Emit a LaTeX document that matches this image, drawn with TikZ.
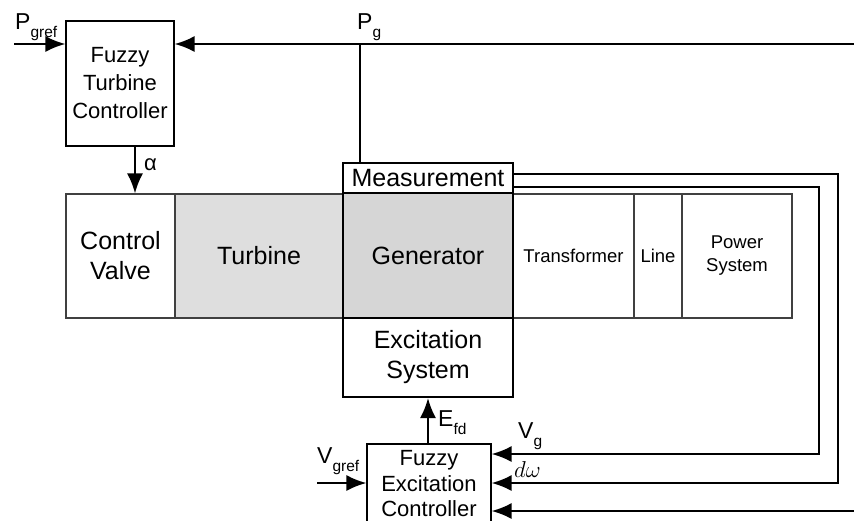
\RequirePackage{fix-cm}
\documentclass[tikz,border=0pt]{standalone}
\usepackage{fontspec}
\setmainfont{Liberation Sans}
\usetikzlibrary{arrows.meta}
\newcommand\mysub[1]{\raisebox{-0.35em}{\fontsize{15.5}{15.5}\selectfont #1}}
\begin{document}
\begin{tikzpicture}[x=1pt,y=-1pt,
  blk/.style={draw, rectangle, inner sep=0pt, align=center, line width=1.1pt},
  rowblk/.style={blk, draw=black!75, minimum height=124pt},
  thickblk/.style={blk, line width=2pt},
  big/.style={font=\fontsize{25}{30}\selectfont},
  mid/.style={font=\fontsize{22}{27}\selectfont},
  small/.style={font=\fontsize{18.5}{23}\selectfont},
  lbl/.style={inner sep=0pt, anchor=west, font=\fontsize{23}{23}\selectfont},
  wire/.style={line width=2.2pt},
  arr/.style={wire, -{Latex[length=20pt,width=16pt]}},
  shade1/.style={fill=black!13},
  shade2/.style={fill=black!16}]
\useasboundingbox (0,0) rectangle (854,520);
\clip (0,0) rectangle (854,520);
% main row
\node[rowblk, big, minimum width=109pt] (cv) at (120.5,256) {Control\\Valve};
\node[rowblk, big, shade1, minimum width=168pt] (tur) at (259,256) {Turbine};
\node[rowblk, small, minimum width=121pt] (trans) at (573.5,256) {Transformer};
\node[rowblk, small, minimum width=48pt] (line) at (658,256) {Line};
\node[rowblk, small, minimum width=110pt] (ps) at (737,256) {Power\\System};
\node[thickblk, big, shade2, minimum width=170pt, minimum height=125pt] (gen) at (428,255.5) {Generator};
\node[blk, big, fill=white, minimum width=170pt, minimum height=30pt] (meas) at (428,178) {Measurement};
\node[thickblk, big, minimum width=170pt, minimum height=79pt] (exc) at (428,357.5) {Excitation\\System};
% controllers
\node[blk, mid, minimum width=108pt, minimum height=125pt, font=\fontsize{22}{28}\selectfont] (ftc) at (120,83.5) {Fuzzy\\Turbine\\Controller};
\node[blk, mid, minimum width=124pt, minimum height=80pt, font=\fontsize{22}{25.5}\selectfont] (fec) at (429,484) {Fuzzy\\Excitation\\Controller};
% coordinates
\coordinate (pgin) at (14,44);
\coordinate (topr) at (856,44);
\coordinate (pgj) at (360,44);
\coordinate (ax) at (135,100);
\coordinate (d1) at (838,174);
\coordinate (d2) at (838,483);
\coordinate (v1) at (819,187);
\coordinate (v2) at (819,454);
\coordinate (b1) at (856,511);
\coordinate (g1) at (317,483);
% connectors
\draw[arr] (pgin) -- (ftc.west |- pgin);
\draw[arr] (topr) -- (ftc.east |- topr);
\draw[wire] (meas.north -| pgj) -- (pgj);
\draw[arr] (ftc.south -| ax) -- (cv.north -| ax);
\draw[arr] (fec.north -| exc.south) -- (exc.south);
\draw[arr] (meas.east |- d1) -- (d1) -- (d2) -- (fec.east |- d2);
\draw[arr] (meas.east |- v1) -- (v1) -- (v2) -- (fec.east |- v2);
\draw[arr] (b1) -- (fec.east |- b1);
\draw[arr] (g1) -- (fec.west |- g1);
% labels
\node[lbl] (lpgref) at (15,27) {P\mysub{gref}};
\node[lbl] (lpg) at (357,27) {P\mysub{g}};
\node[lbl, font=\fontsize{22}{22}\selectfont] (lalpha) at (144,165) {α};
\node[lbl] (lefd) at (438,423) {E\mysub{fd}};
\node[lbl] (lvg) at (518,436) {V\mysub{g}};
\node[lbl] (lvgref) at (317,461) {V\mysub{gref}};
\node[lbl, font=\fontsize{23}{23}\selectfont] (ldw) at (514,470) {$d\omega$};
\end{tikzpicture}
\end{document}
